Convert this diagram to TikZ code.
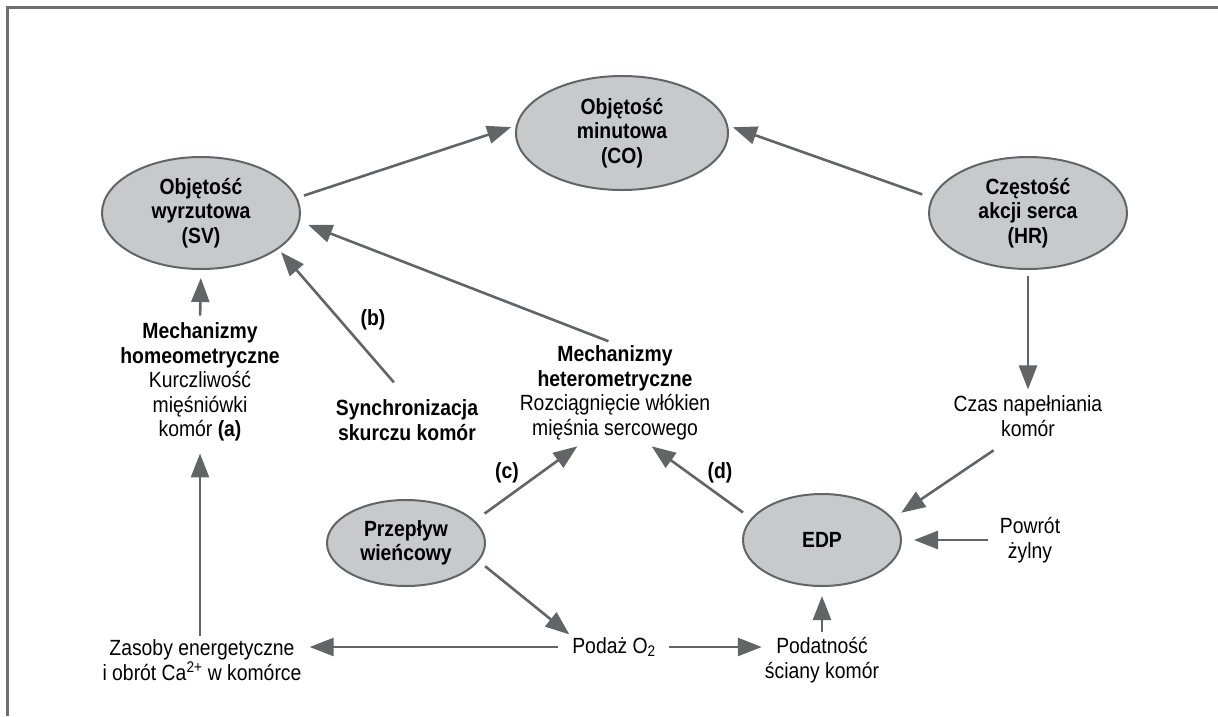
\documentclass[tikz,border=0pt]{standalone}
\usepackage{fontspec}
\setmainfont{Liberation Sans}[FakeStretch=0.88]
\usetikzlibrary{shapes.geometric,arrows.meta}
\definecolor{linegray}{HTML}{636466}
\definecolor{ellgray}{HTML}{C8C9CB}
\definecolor{framegray}{HTML}{6D6E70}

\begin{document}
\begin{tikzpicture}[x=1pt,y=-1pt,
  oval/.style={ellipse,draw=linegray,line width=2pt,fill=ellgray,inner sep=0pt,align=center,font=\fontsize{22}{24.5}\selectfont\bfseries},
  txt/.style={align=center,inner sep=2pt,font=\fontsize{22}{24.5}\selectfont},
  lbl/.style={inner sep=0pt,font=\fontsize{22}{24.5}\selectfont\bfseries},
  arr/.style={draw=linegray,line width=2.6pt,-{Triangle[length=24pt,width=18pt]}}]
\useasboundingbox (0,0) rectangle (1218,716);
\draw[framegray,line width=2.5pt] (7.5,716) -- (7.5,7.5) -- (1218,7.5);

\node[oval,minimum width=212pt,minimum height=114pt] at (622,133) (co) {Objętość\\minutowa\\(CO)};
\node[oval,minimum width=198pt,minimum height=112pt] at (201,213) (sv) {Objętość\\wyrzutowa\\(SV)};
\node[oval,minimum width=198pt,minimum height=112pt] at (1028,213) (hr) {Częstość\\akcji serca\\(HR)};
\node[oval,minimum width=158pt,minimum height=86pt] at (406,543) (pw) {Przepływ\\wieńcowy};
\node[oval,minimum width=158pt,minimum height=92pt] at (822,540) (edp) {EDP};

\node[txt] at (200,382) (homeo) {\textbf{Mechanizmy}\\\textbf{homeometryczne}\\Kurczliwość\\mięśniówki\\komór \textbf{(a)}};
\node[txt,font=\fontsize{22}{24.5}\selectfont\bfseries] at (407,420) (sync) {Synchronizacja\\skurczu komór};
\node[txt] at (615,393) (hetero) {\textbf{Mechanizmy}\\\textbf{heterometryczne}\\Rozciągnięcie włókien\\mięśnia sercowego};
\node[txt] at (1028,416) (czas) {Czas napełniania\\komór};
\node[txt] at (1030,540) (powrot) {Powrót\\żylny};
\node[txt] at (202,660) (zasoby) {Zasoby energetyczne\\i obrót Ca\textsuperscript{2+} w komórce};
\node[txt] at (614,647) (podaz) {Podaż O\textsubscript{2}};
\node[txt] at (822,660) (podat) {Podatność\\ściany komór};

\node[lbl] at (373,320) (lb) {(b)};
\node[lbl] at (507,473) (lc) {(c)};
\node[lbl] at (720,473) (ld) {(d)};

\draw[arr,shorten <=7pt,shorten >=5pt] (sv.9) -- (co.176);
\draw[arr,shorten <=10pt,shorten >=5pt] (hr.171) -- (co.4);
\draw[arr,shorten <=7pt,shorten >=9pt] (hetero.north) -- (sv.-5);
\draw[arr,shorten <=20pt,shorten >=4pt] (sync.north) -- (sv.-25);
\draw[arr,shorten <=5pt,shorten >=8pt] (homeo.north) -- (sv.south);
\draw[arr,shorten <=1pt,shorten >=10pt] (zasoby.north -| homeo.south) -- (homeo.south);
\draw[arr,shorten <=12pt,shorten >=7pt] (pw.18) -- ([xshift=-32pt]hetero.south);
\draw[arr,shorten <=10pt,shorten >=7pt] (edp.163) -- ([xshift=31pt]hetero.south);
\draw[arr,shorten <=6pt,shorten >=4pt] (hr.south) -- (czas.north);
\draw[arr,shorten <=21pt,shorten >=10pt] ([xshift=-17pt]czas.south) -- (edp.17);
\draw[arr,shorten <=10pt,shorten >=12pt] (powrot.west) -- (edp.east);
\draw[arr,shorten <=3pt,shorten >=9pt] (podat.north) -- (edp.south);
\draw[arr,shorten <=8pt,shorten >=1pt] (pw.-14) -- (podaz.north west);
\draw[arr,shorten <=12pt,shorten >=6pt] (podaz.west) -- (podaz.west -| zasoby.east);
\draw[arr,shorten <=11pt,shorten >=1pt] (podaz.east) -- (podaz.east -| podat.west);
\end{tikzpicture}
\end{document}
